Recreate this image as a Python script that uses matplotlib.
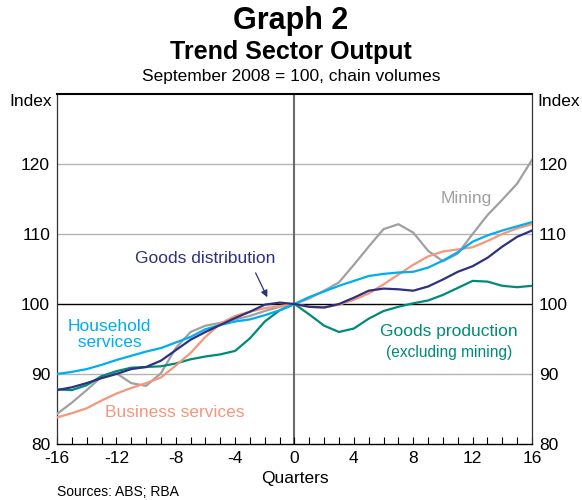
import matplotlib
matplotlib.use("Agg")
import matplotlib.pyplot as plt
import numpy as np

plt.rcParams['font.family'] = ['Liberation Sans', 'DejaVu Sans']

quarters = list(range(-16, 17))

mining = [84.3, 85.9, 87.7, 89.6, 90.1, 88.7, 88.3, 90.1, 93.7, 96.0, 96.9, 97.3, 97.8, 98.3, 99.0, 99.6,
          100.0, 100.8, 101.9, 103.1, 105.6, 108.2, 110.7, 111.4, 110.2, 107.6, 106.1, 107.2, 110.0, 112.7, 114.9, 117.2, 120.6]
household = [90.0, 90.3, 90.7, 91.3, 92.0, 92.6, 93.2, 93.7, 94.5, 95.3, 96.4, 97.0, 97.5, 97.8, 98.4, 99.1,
             100.0, 101.0, 101.8, 102.6, 103.3, 104.0, 104.3, 104.5, 104.6, 105.2, 106.2, 107.4, 108.9, 109.8, 110.5, 111.1, 111.7]
business = [83.8, 84.4, 85.1, 86.2, 87.2, 88.0, 88.7, 89.5, 91.2, 93.0, 95.3, 97.2, 98.3, 98.9, 99.4, 99.7,
            100.0, 99.6, 99.5, 99.9, 100.6, 101.5, 102.8, 104.2, 105.6, 106.8, 107.5, 107.8, 108.1, 109.0, 110.0, 110.8, 111.4]
distribution = [87.7, 88.1, 88.7, 89.4, 90.0, 90.7, 91.0, 91.9, 93.4, 94.9, 96.0, 97.0, 98.0, 98.9, 99.9, 100.2,
                100.0, 99.6, 99.5, 100.0, 100.9, 101.9, 102.2, 102.1, 101.9, 102.5, 103.5, 104.6, 105.4, 106.6, 108.2, 109.6, 110.5]
production = [87.8, 87.7, 88.4, 89.7, 90.4, 90.9, 91.0, 91.1, 91.5, 92.1, 92.5, 92.8, 93.3, 95.1, 97.5, 99.1,
              100.0, 98.5, 96.9, 96.0, 96.5, 97.9, 99.0, 99.6, 100.1, 100.5, 101.3, 102.3, 103.3, 103.2, 102.6, 102.4, 102.6]

c_mining = '#a0a0a0'
c_house = '#00aeef'
c_bus = '#f4977a'
c_dist = '#2e3180'
c_prod = '#008b78'

FS = 12.5

fig = plt.figure(figsize=(5.82, 5.0), dpi=100)
ax = fig.add_axes([0.0979, 0.112, 0.8162, 0.700])

for v in [90, 110, 120]:
    ax.axhline(v, color='#b4b4b4', lw=1.0, zorder=1)
ax.axhline(100, color='black', lw=1.0, zorder=1)
ax.axvline(0, color='#6b6b6b', lw=1.5, zorder=1)

lw = 1.6
ax.plot(quarters, mining, color=c_mining, lw=lw, zorder=3)
ax.plot(quarters, production, color=c_prod, lw=lw, zorder=3)
ax.plot(quarters, business, color=c_bus, lw=lw, zorder=3)
ax.plot(quarters, household, color=c_house, lw=lw, zorder=3)
ax.plot(quarters, distribution, color=c_dist, lw=lw, zorder=4)

ax.set_xlim(-16, 16)
ax.set_ylim(80, 130)
ax.set_xticks(range(-16, 17, 4))
ax.set_xticks(range(-16, 17), minor=True)
ax.set_xticklabels([str(t) for t in range(-16, 17, 4)])
ax.tick_params(axis='x', which='both', direction='in', length=5, width=0.8, color='black',
               labelsize=FS, pad=5)
ax.set_yticks([80, 90, 100, 110, 120])
ax.tick_params(axis='y', which='both', length=0, labelsize=FS, pad=5,
               left=False, right=False, labelleft=True, labelright=True)

for s in ['left', 'right']:
    ax.spines[s].set_color('#333333')
    ax.spines[s].set_linewidth(0.9)
ax.spines['top'].set_linewidth(1.5)
ax.spines['bottom'].set_linewidth(1.0)

ax.text(-0.01, 128.9, 'Index', transform=ax.get_yaxis_transform(), ha='right', va='center', fontsize=FS)
ax.text(1.011, 128.9, 'Index', transform=ax.get_yaxis_transform(), ha='left', va='center', fontsize=FS)

ax.set_xlabel('Quarters', fontsize=FS, labelpad=4)

ax.text(-6.0, 106.55, 'Goods distribution', color=c_dist, fontsize=FS, ha='center', va='center')
ax.annotate('', xy=(-1.75, 100.6), xytext=(-2.7, 104.8),
            arrowprops=dict(arrowstyle='-|>', color=c_dist, lw=0.9, mutation_scale=10))
ax.text(11.6, 115.0, 'Mining', color=c_mining, fontsize=FS, ha='center', va='center')
ax.text(-15.26, 95.64, 'Household\n  services', color=c_house, fontsize=FS, ha='left', va='center',
        linespacing=1.05)
ax.text(-8.05, 84.57, 'Business services', color=c_bus, fontsize=FS, ha='center', va='center')
ax.text(10.4, 96.1, 'Goods production', color=c_prod, fontsize=FS, ha='center', va='center')
ax.text(10.4, 93.0, '(excluding mining)', color=c_prod, fontsize=11.2, ha='center', va='center')

fig.text(0.5, 0.958, 'Graph 2', ha='center', va='center', fontsize=22, fontweight='bold')
fig.text(0.5, 0.896, 'Trend Sector Output', ha='center', va='center', fontsize=18, fontweight='bold')
fig.text(0.5, 0.848, 'September 2008 = 100, chain volumes', ha='center', va='center', fontsize=12.5)
fig.text(0.0979, 0.015, 'Sources: ABS; RBA', ha='left', va='center', fontsize=10)

fig.savefig('out.png', dpi=100)
